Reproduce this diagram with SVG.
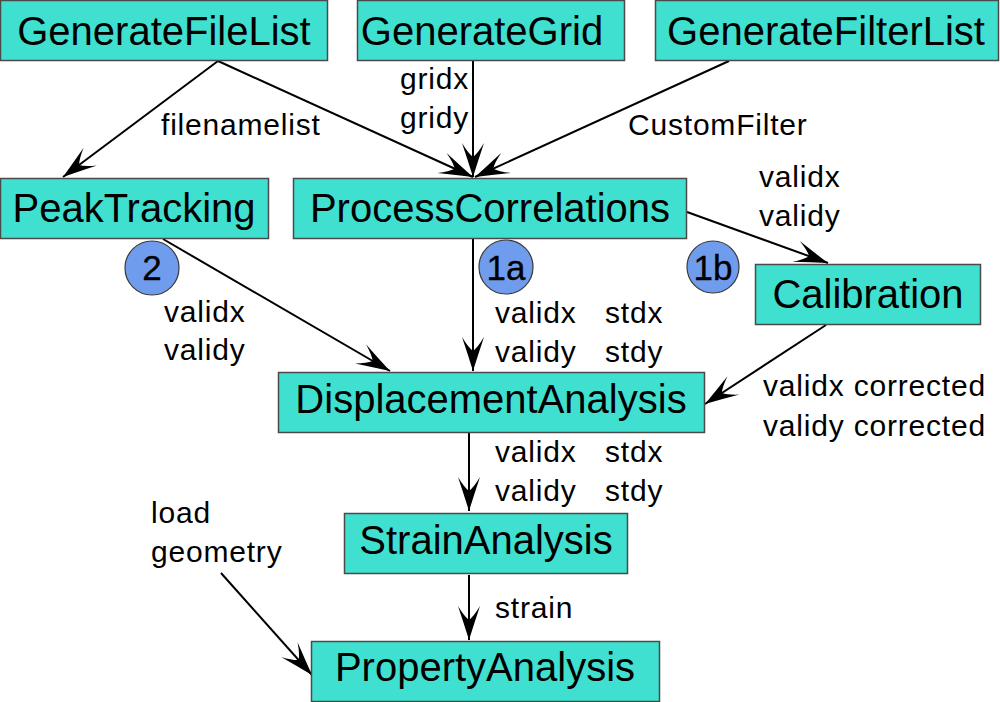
<svg xmlns="http://www.w3.org/2000/svg" width="1000" height="702" viewBox="0 0 1000 702">
<style>
.box{fill:#40e0d0;stroke:#4a4a4a;stroke-width:1.5}
.bl{font-family:"Liberation Sans",Arial,sans-serif;font-size:40px;fill:#000;text-anchor:middle}
.lb{font-family:"Liberation Sans",Arial,sans-serif;font-size:30px;letter-spacing:0.8px;fill:#000}
.cir{fill:#6f9cec;stroke:#3a3a3a;stroke-width:1.2}
.ct{font-family:"Liberation Sans",Arial,sans-serif;font-size:35px;fill:#000;stroke:#000;stroke-width:0.3;text-anchor:middle}
.edge{stroke:#000;stroke-width:2;fill:none;marker-end:url(#ah)}
</style>
<defs>
<marker id="ah" markerUnits="userSpaceOnUse" markerWidth="40" markerHeight="24" refX="34" refY="11" orient="auto" overflow="visible">
<path d="M34,11 Q18,6 0,0 Q10,6 14,11 Q10,16 0,22 Q18,16 34,11 Z" fill="#000"/>
</marker>
</defs>
<rect width="1000" height="702" fill="#fff"/>
<g id="connectors">
<line class="edge" x1="218" y1="61" x2="63" y2="177"/>
<line class="edge" x1="218" y1="61" x2="473" y2="177"/>
<line class="edge" x1="473" y1="61" x2="473" y2="177"/>
<line class="edge" x1="729" y1="61" x2="475" y2="177"/>
<line class="edge" x1="163" y1="239" x2="390" y2="371"/>
<line class="edge" x1="473" y1="238" x2="473" y2="371"/>
<line class="edge" x1="687" y1="212" x2="828" y2="263"/>
<line class="edge" x1="826" y1="325" x2="705" y2="404"/>
<line class="edge" x1="469" y1="433" x2="469" y2="511"/>
<line class="edge" x1="469" y1="575" x2="469" y2="640"/>
<line class="edge" x1="221" y1="573" x2="312" y2="675"/>
</g>
<g id="GenerateFileList"><rect class="box" x="0.5" y="0.5" width="327" height="60"/><text class="bl" x="164" y="45">GenerateFileList</text></g>
<g id="GenerateGrid"><rect class="box" x="357.5" y="0.5" width="267" height="60"/><text class="bl" x="482" y="45">GenerateGrid</text></g>
<g id="GenerateFilterList"><rect class="box" x="655.5" y="0.5" width="343" height="60"/><text class="bl" x="826" y="45">GenerateFilterList</text></g>
<g id="PeakTracking"><rect class="box" x="0.5" y="178.5" width="268" height="60"/><text class="bl" x="134" y="222">PeakTracking</text></g>
<g id="ProcessCorrelations"><rect class="box" x="293.5" y="178.5" width="393" height="60"/><text class="bl" x="490" y="222">ProcessCorrelations</text></g>
<g id="Calibration"><rect class="box" x="755.5" y="264.5" width="225" height="60"/><text class="bl" x="868" y="308">Calibration</text></g>
<g id="DisplacementAnalysis"><rect class="box" x="278.5" y="372.5" width="426" height="60"/><text class="bl" x="491" y="413">DisplacementAnalysis</text></g>
<g id="StrainAnalysis"><rect class="box" x="344.5" y="513.5" width="283" height="60"/><text class="bl" x="486" y="554">StrainAnalysis</text></g>
<g id="PropertyAnalysis"><rect class="box" x="311.5" y="641.5" width="348" height="60"/><text class="bl" x="485" y="681">PropertyAnalysis</text></g>
<g id="marker2"><circle class="cir" cx="152" cy="268" r="27"/><text class="ct" x="152" y="280">2</text></g>
<g id="marker1a"><circle class="cir" cx="506" cy="267" r="27"/><text class="ct" x="506" y="280">1a</text></g>
<g id="marker1b"><circle class="cir" cx="713" cy="267" r="26"/><text class="ct" x="713" y="280">1b</text></g>
<g id="labels">
<text class="lb" x="400" y="89">gridx</text>
<text class="lb" x="400" y="128">gridy</text>
<text class="lb" x="161" y="135">filenamelist</text>
<text class="lb" x="628" y="135">CustomFilter</text>
<text class="lb" x="759" y="187">validx</text>
<text class="lb" x="759" y="226">validy</text>
<text class="lb" x="164" y="322">validx</text>
<text class="lb" x="164" y="360">validy</text>
<text class="lb" x="495" y="323">validx</text>
<text class="lb" x="605" y="323">stdx</text>
<text class="lb" x="495" y="362">validy</text>
<text class="lb" x="605" y="362">stdy</text>
<text class="lb" x="763" y="396">validx corrected</text>
<text class="lb" x="763" y="436">validy corrected</text>
<text class="lb" x="495" y="462">validx</text>
<text class="lb" x="605" y="462">stdx</text>
<text class="lb" x="495" y="501">validy</text>
<text class="lb" x="605" y="501">stdy</text>
<text class="lb" x="151" y="523">load</text>
<text class="lb" x="151" y="562">geometry</text>
<text class="lb" x="495" y="618">strain</text>
</g>
</svg>
